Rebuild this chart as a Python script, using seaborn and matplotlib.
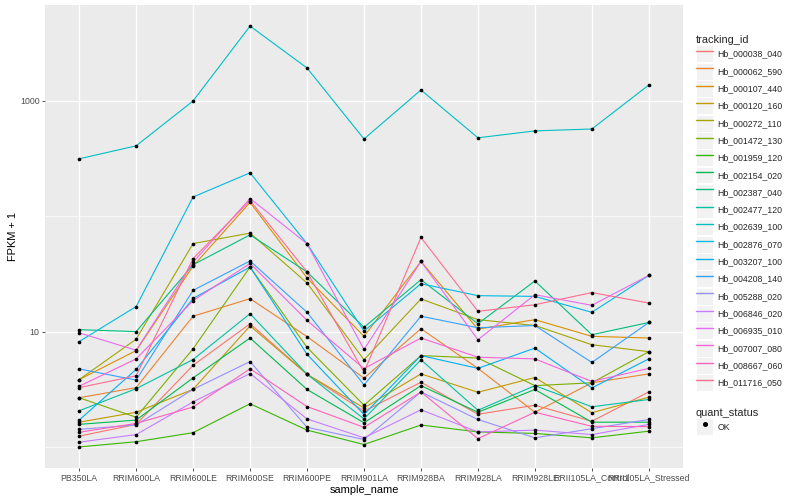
import matplotlib
matplotlib.use("Agg")
import matplotlib.pyplot as plt
from matplotlib.lines import Line2D
from matplotlib.patches import Rectangle
from matplotlib.legend_handler import HandlerLine2D
import matplotlib.ticker as mticker
import numpy as np
import pandas as pd
import seaborn as sns

samples = ["PB350LA", "RRIM600LA", "RRIM600LE", "RRIM600SE", "RRIM600PE",
           "RRIM901LA", "RRIM928BA", "RRIM928LA", "RRIM928LE",
           "RRII105LA_Control", "RRII105LA_Stressed"]

tracking_ids = ["Hb_000038_040", "Hb_000062_590", "Hb_000107_440", "Hb_000120_160",
                "Hb_000272_110", "Hb_001472_130", "Hb_001959_120", "Hb_002154_020",
                "Hb_002387_040", "Hb_002477_120", "Hb_002639_100", "Hb_002876_070",
                "Hb_003207_100", "Hb_004208_140", "Hb_005288_020", "Hb_006846_020",
                "Hb_006935_010", "Hb_007007_080", "Hb_008667_060", "Hb_011716_050"]

hb_000038_040 = [1.24, 1.57, 5.1, 11.7, 4.27, 2.04, 3.64, 1.92, 2.3, 1.67, 3.0]
hb_000062_590 = [2.67, 3.27, 13.6, 19.3, 9.05, 3.95, 10.6, 4.8, 2.0, 3.6, 4.3]
hb_000107_440 = [3.84, 6.85, 37, 132, 29.2, 9.1, 40.6, 10.5, 12.7, 9.1, 8.8]
hb_000120_160 = [1.64, 2.0, 3.16, 11.2, 4.27, 2.18, 4.3, 2.98, 4.0, 1.98, 2.7]
hb_000272_110 = [3.84, 8.6, 58, 71.5, 26.4, 5.7, 19.2, 12.7, 11.3, 7.7, 6.7]
hb_001472_130 = [2.67, 1.81, 7.1, 36.3, 7.3, 2.30, 6.2, 5.9, 3.4, 3.6, 6.7]
hb_001959_120 = [1.0, 1.11, 1.33, 2.37, 1.40, 1.05, 1.55, 1.35, 1.31, 1.2, 1.37]
hb_002154_020 = [1.57, 1.71, 3.97, 8.8, 3.15, 1.62, 3.4, 2.0, 3.15, 1.64, 1.64]
hb_002387_040 = [10.4, 10.0, 38, 69, 32.9, 10.9, 28.2, 11.7, 27.5, 9.4, 12.0]
hb_002477_120 = [2.06, 3.2, 5.73, 14.3, 4.27, 1.75, 5.7, 2.08, 3.4, 2.23, 2.58]
hb_002639_100 = [315, 408, 1000, 4460, 1930, 468, 1245, 479, 550, 571, 1375]
hb_002876_070 = [8.2, 16.5, 147, 238, 57.8, 10.1, 26, 20.5, 20.2, 14.7, 30.7]
hb_003207_100 = [1.71, 4.7, 19.4, 36.3, 6.36, 1.91, 6.2, 4.8, 7.2, 3.25, 5.8]
hb_004208_140 = [4.75, 3.8, 22.8, 41, 14.7, 3.45, 13.6, 10.8, 11.3, 5.4, 12.0]
hb_005288_020 = [1.42, 1.55, 3.16, 5.5, 1.48, 1.16, 3.0, 1.73, 1.2, 1.44, 1.73]
hb_006846_020 = [1.10, 1.28, 2.46, 4.33, 1.75, 1.2, 2.1, 1.35, 1.4, 1.28, 1.57]
hb_006935_010 = [9.75, 6.9, 40, 142.6, 57.8, 7.0, 40.6, 8.5, 20.9, 16.9, 30.7]
hb_007007_080 = [3.36, 5.8, 18.6, 39, 12.5, 4.78, 8.8, 6.0, 5.8, 3.7, 4.8]
hb_008667_060 = [1.34, 1.6, 2.22, 4.76, 2.24, 1.48, 3.0, 1.18, 2.0, 1.51, 1.5]
hb_011716_050 = [3.27, 4.14, 43, 137, 32.9, 4.45, 65.5, 15, 17.1, 21.8, 17.7]

series_values = [hb_000038_040, hb_000062_590, hb_000107_440, hb_000120_160,
                 hb_000272_110, hb_001472_130, hb_001959_120, hb_002154_020,
                 hb_002387_040, hb_002477_120, hb_002639_100, hb_002876_070,
                 hb_003207_100, hb_004208_140, hb_005288_020, hb_006846_020,
                 hb_006935_010, hb_007007_080, hb_008667_060, hb_011716_050]

palette = ["#F8766D", "#EA8331", "#D89000", "#C09B00", "#A3A500", "#7CAE00",
           "#39B600", "#00BB4E", "#00BF7D", "#00C1A3", "#00BFC4", "#00BAE0",
           "#00B0F6", "#35A2FF", "#9590FF", "#C77CFF", "#E76BF3", "#FA62DB",
           "#FF62BC", "#FF6C91"]

rows = []
for tid, vals in zip(tracking_ids, series_values):
    for s, v in zip(samples, vals):
        rows.append({"tracking_id": tid, "sample_name": s, "fpkm1": v, "quant_status": "OK"})
df = pd.DataFrame(rows)
df["sample_name"] = pd.Categorical(df["sample_name"], categories=samples, ordered=True)
df["xpos"] = df["sample_name"].cat.codes

sns.set_theme(style="darkgrid")
plt.rcParams["font.family"] = ["Liberation Sans", "DejaVu Sans"]

fig = plt.figure(figsize=(8, 5), dpi=100)
ax = fig.add_axes([45 / 800, 1 - 468 / 500, (683 - 45) / 800, (468 - 5) / 500])
ax.set_facecolor("#EBEBEB")

sns.lineplot(data=df, x="xpos", y="fpkm1", hue="tracking_id", hue_order=tracking_ids,
             palette=palette, sort=False, legend=False, linewidth=0.8, ax=ax,
             estimator=None, zorder=2)
sns.scatterplot(data=df, x="xpos", y="fpkm1", color="black", s=7, linewidth=0,
                legend=False, ax=ax, zorder=3)

ax.set_yscale("log")
lo, hi = np.log10(df["fpkm1"].min()), np.log10(df["fpkm1"].max())
pad = 0.05 * (hi - lo)
ax.set_ylim(10 ** (lo - pad), 10 ** (hi + pad))
ax.set_xlim(-0.6, len(samples) - 1 + 0.6)

ax.yaxis.set_major_locator(mticker.FixedLocator([10, 1000]))
ax.yaxis.set_major_formatter(mticker.FixedFormatter(["10", "1000"]))
ax.yaxis.set_minor_locator(mticker.FixedLocator([1, 100]))
ax.yaxis.set_minor_formatter(mticker.NullFormatter())
ax.set_xticks(range(len(samples)))
ax.set_xticklabels(samples)

ax.grid(False)
ax.grid(which="major", color="white", linewidth=1.0, zorder=0)
ax.grid(which="minor", axis="y", color="white", linewidth=0.5, zorder=0)
ax.set_axisbelow(True)
for sp in ax.spines.values():
    sp.set_visible(False)
ax.tick_params(which="major", length=2.5, width=0.6, color="#333333",
               labelsize=6.3, labelcolor="#4D4D4D", pad=1.5, direction="out")
ax.tick_params(which="minor", length=0, left=False)
ax.tick_params(axis="both", which="major", bottom=True, left=True)

ax.set_xlabel("sample_name", fontsize=7.9, color="black", labelpad=2)
ax.set_ylabel("FPKM + 1", fontsize=7.9, color="black", labelpad=1)


class KeyHandler(HandlerLine2D):
    def create_artists(self, legend, orig_handle, xdescent, ydescent, width, height,
                       fontsize, trans):
        rect = Rectangle((-xdescent, -ydescent), width, height, facecolor="#F2F2F2",
                         edgecolor="white", linewidth=0.8, transform=trans)
        arts = super().create_artists(legend, orig_handle, xdescent, ydescent,
                                      width, height, fontsize, trans)
        return [rect] + list(arts)


handles = [Line2D([], [], color=c, linewidth=1.0) for c in palette]
leg1 = fig.legend(handles, tracking_ids, title="tracking_id", loc="upper left",
                  bbox_to_anchor=(696 / 800, 1 - 35 / 500), frameon=False,
                  fontsize=6.3, title_fontsize=7.9, handlelength=1.95, handleheight=2.59,
                  labelspacing=0.05, handletextpad=0.5, borderaxespad=0,
                  borderpad=0, handler_map={Line2D: KeyHandler()})
leg1._legend_box.align = "left"

ok_handle = Line2D([], [], color="black", marker="o", linestyle="", markersize=2.6)
leg2 = fig.legend([ok_handle], ["OK"], title="quant_status", loc="upper left",
                  bbox_to_anchor=(696 / 800, 1 - 408 / 500), frameon=False,
                  fontsize=6.3, title_fontsize=7.9, handlelength=1.95, handleheight=2.59,
                  labelspacing=0.05, handletextpad=0.5, borderaxespad=0,
                  borderpad=0, handler_map={Line2D: KeyHandler()})
leg2._legend_box.align = "left"

fig.savefig("out.png", dpi=100, facecolor="white")
